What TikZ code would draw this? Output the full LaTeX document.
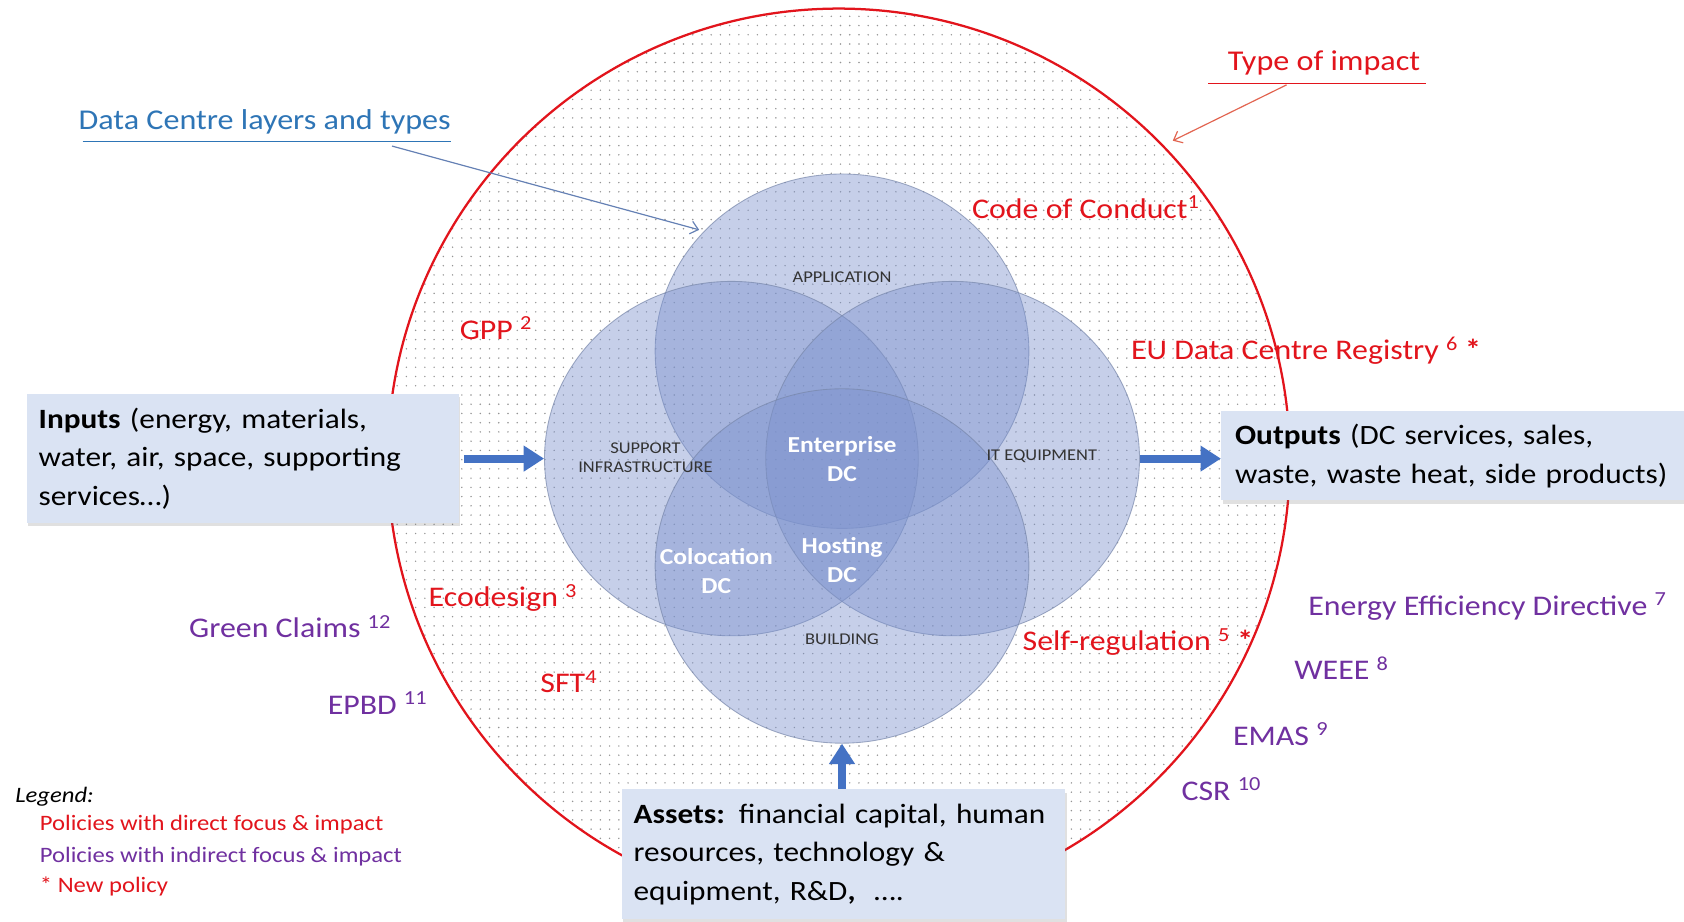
\documentclass[tikz,border=0pt]{standalone}
\usepackage{fontspec}
\setmainfont{Carlito}[FakeStretch=1.12]
\usetikzlibrary{arrows.meta,shapes.geometric,patterns.meta,shadows}
\definecolor{polred}{RGB}{226,20,28}
\definecolor{polpurple}{RGB}{112,48,160}
\definecolor{titleblue}{RGB}{46,117,182}
\definecolor{pointerblue}{RGB}{100,128,180}
\definecolor{pointerred}{RGB}{226,100,80}
\definecolor{vennfill}{RGB}{124,146,206}
\definecolor{vennedge}{RGB}{120,135,170}
\definecolor{boxfill}{RGB}{218,227,243}
\definecolor{arrowblue}{RGB}{68,114,196}
\newcommand{\fsz}[2]{\fontsize{#1}{#2}\selectfont}
\begin{document}
\begin{tikzpicture}[x=1pt,y=-1pt,
  direct/.style={text=polred,font=\fsz{26.5}{30},anchor=base west,inner sep=0pt},
  indirect/.style={text=polpurple,font=\fsz{26.5}{30},anchor=base west,inner sep=0pt},
  legendtxt/.style={font=\fsz{20.5}{24},anchor=base west,inner sep=0pt},
  layerlbl/.style={font=\fsz{15.3}{18},text=black!80,align=center,inner sep=0pt},
  dctype/.style={font=\fsz{21.3}{27}\bfseries,text=white,align=center,inner sep=0pt},
  venn/.style={ellipse,minimum width=348pt,minimum height=330pt,fill=vennfill,fill opacity=0.43,draw=vennedge,draw opacity=0.7,line width=0.8pt,inner sep=0pt},
  infobox/.style={rectangle,fill=boxfill,font=\fsz{26}{36},align=left,inner sep=0pt,
    drop shadow={shadow xshift=1.5pt,shadow yshift=-3pt,opacity=0.2,fill=black!60}},
  flowarrow/.style={line width=7.5pt,draw=arrowblue,-{Triangle[width=23pt,length=19pt]}},
  pointer/.style={line width=1.1pt,-{Straight Barb[length=7pt,width=12pt]}}
]
\useasboundingbox (0,0) rectangle (1568,858);
\fill[white] (0,0) rectangle (1568,858);

% type of impact circle
\node[circle,minimum size=840pt,inner sep=0pt,draw=polred,line width=2.1pt,
  pattern={Dots[distance=8.6pt,radius=0.75pt]},pattern color=black!42] (impact) at (781,428) {};

% Venn diagram
\node[venn] (vt) at (784,327) {};
\node[venn] (vl) at (681,427) {};
\node[venn] (vr) at (887,427) {};
\node[venn] (vb) at (784,527) {};

\node[layerlbl] (lapp) at (784,258) {APPLICATION};
\node[layerlbl] (lsup) at (601,426) {SUPPORT\\INFRASTRUCTURE};
\node[layerlbl] (lit) at (970,425) {IT EQUIPMENT};
\node[layerlbl] (lbld) at (784,595) {BUILDING};
\node[dctype] (ent) at (784,427) {Enterprise\\DC};
\node[dctype] (colo) at (667,532) {Colocation\\DC};
\node[dctype] (host) at (784,521) {Hosting\\DC};

% titles with pointers
\node[text=titleblue,font=\fsz{26.7}{30},anchor=base west,inner sep=0pt] (dctitle) at (73,121) {Data Centre layers and types};
\draw[titleblue,line width=0.9pt] ([xshift=4pt,yshift=-11pt]dctitle.base west) -- ([yshift=-11pt]dctitle.base east);
\coordinate (dcfrom) at (365,136);
\coordinate (dcto) at (651,214);
\draw[pointer,pointerblue] (dcfrom) -- (dcto);

\node[text=polred,font=\fsz{26.7}{31},anchor=base west,inner sep=0pt] (imptitle) at (1143,66) {Type of impact};
\draw[polred,line width=0.9pt] ([xshift=-18pt,yshift=-12pt]imptitle.base west) -- ([xshift=5pt,yshift=-12pt]imptitle.base east);
\coordinate (impfrom) at (1198,79);
\coordinate (impto) at (1092,131);
\draw[pointer,pointerred] (impfrom) -- (impto);

% direct policies
\node[direct] (coc) at (905,203) {Code of Conduct\textsuperscript{1}};
\node[direct] (gpp) at (428,316) {GPP \textsuperscript{2}};
\node[direct] (reg) at (1053,335) {EU Data Centre Registry \textsuperscript{6} \textbf{*}};
\node[direct] (eco) at (399,565) {Ecodesign \textsuperscript{3}};
\node[direct] (sft) at (503,645) {SFT\textsuperscript{4}};
\node[direct] (selfreg) at (952,606) {Self-regulation \textsuperscript{5} \textbf{*}};

% indirect policies
\node[indirect] (eed) at (1218,573) {Energy Efficiency Directive \textsuperscript{7}};
\node[indirect] (weee) at (1205,633) {WEEE \textsuperscript{8}};
\node[indirect] (emas) at (1148,694) {EMAS \textsuperscript{9}};
\node[indirect] (csr) at (1100,745) {CSR \textsuperscript{10}};
\node[indirect] (green) at (176,594) {Green Claims \textsuperscript{12}};
\node[indirect] (epbd) at (305,665) {EPBD \textsuperscript{11}};

% boxes
\node[infobox,minimum width=402pt,minimum height=120pt,text width=380pt] (inputs) at (226,427)
  {\textbf{Inputs} (energy, materials,\\water, air, space, supporting\\services…)};
\node[infobox,minimum width=438pt,minimum height=83pt,text width=412pt] (outputs) at (1356,424.5)
  {\textbf{Outputs} (DC services, sales,\\waste, waste heat, side products)};
\node[infobox,minimum width=413pt,minimum height=121pt,text width=391pt] (assets) at (785.5,795.5)
  {\textbf{Assets:} financial capital, human\\resources, technology \&\\equipment, R\&D\textbf{,}\ \ ….};

% flow arrows
\draw[flowarrow] ([xshift=5pt]inputs.east) -- (vl.west);
\draw[flowarrow] (vr.east) -- (vr.east -| outputs.west);
\draw[flowarrow] (vb.south |- assets.north) -- (vb.south);

% legend
\node[legendtxt,font=\fsz{20.5}{24}\itshape] (leg) at (14,747) {Legend:};
\node[legendtxt,text=polred] (legd) at (37,773) {Policies with direct focus \& impact};
\node[legendtxt,text=polpurple] (legi) at (37,803) {Policies with indirect focus \& impact};
\node[legendtxt,text=polred] (legn) at (37,831) {* New policy};
\end{tikzpicture}
\end{document}
